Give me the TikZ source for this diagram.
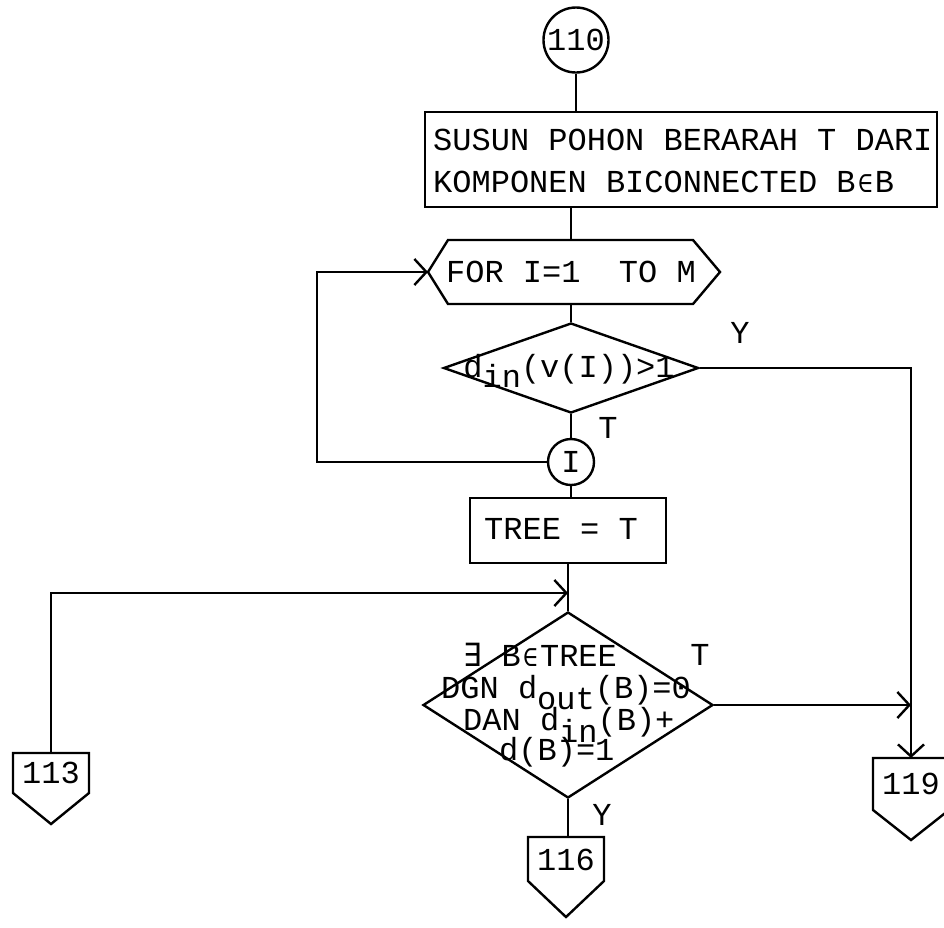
\documentclass[tikz,border=0pt]{standalone}
\usepackage{fontspec}
\setmonofont{Liberation Mono}
\newfontfamily\symf{DejaVu Sans Mono}
\usetikzlibrary{arrows.meta,shapes.geometric,calc}
\newcommand{\elem}{\makebox[19.2pt]{\symf\fontsize{25}{25}\selectfont ∈}}
\begin{document}
\begin{tikzpicture}[x=1pt,y=-1pt,
  line width=2.4pt,
  every node/.style={font=\ttfamily\fontsize{32}{42}\selectfont},
  arr/.style={-{Straight Barb[length=12pt,width=26pt]}},
  dia/.style={diamond, draw, inner sep=0pt},
  circ/.style={circle, draw, inner sep=0pt},
  txt/.style={inner sep=0pt},
  boxa/.style={draw, inner sep=0pt},
]
\useasboundingbox (0,0) rectangle (944,927);

% start connector
\node[circ, minimum size=65] (c110) at (576,40) {110};
\node[boxa, minimum width=512, minimum height=95] (b1) at (681,159.5) {};
\node[txt, anchor=west, align=left] (b1t) at (432,161) {SUSUN POHON BERARAH T DARI\\KOMPONEN BICONNECTED B\elem B};
\draw (c110.south) -- (c110.south |- b1.north);

% loop hexagon
\node[txt] (hex) at (571,272) {FOR I=1\ \ TO M};
\coordinate (hexL) at (428,272);
\coordinate (hexT) at (571,240);
\coordinate (hexB) at (571,304);
\draw (hexL) -- (448,240) -- (693,240) -- (720,272) -- (693,304) -- (448,304) -- cycle;
\draw (hexT |- b1.south) -- (hexT);

% decision 1
\node[dia, minimum width=255, minimum height=90] (d1) at (571,368) {};
\node[txt, anchor=base] (d1t) at (569,377) {d\raisebox{-10pt}{in}(v(I))>1};
\draw (hexB) -- (d1.north);
\node[txt] (y1) at (740,333) {Y};
\coordinate (p119) at (911,758);
\draw[arr] (d1.east) -| (p119);

% loop end connector
\node[circ, minimum size=46] (cI) at (571,462) {I};
\draw (d1.south) -- (cI.north);
\node[txt] (t1lab) at (608,428) {T};
\coordinate (loopC) at (317,462);
\draw[arr] (cI.west) -- (loopC) |- (hexL);

% assignment
\node[boxa, minimum width=196, minimum height=65] (tree) at (568,530.5) {};
\node[txt, anchor=west] (treet) at (483,529) {TREE = T};
\draw (cI.south) -- (cI.south |- tree.north);

% decision 2
\node[dia, minimum width=290, minimum height=186] (d2) at (568,705) {};
\coordinate (join) at (568,593);
\draw (tree.south) -- (d2.north);
\coordinate (p113) at (51,753);
\draw[arr] (p113) |- (join);

\node[txt, anchor=base west] (l1) at (462,666) {{\symf ∃} B\elem TREE};
\node[txt, anchor=base west] (l2) at (440,698) {DGN d\raisebox{-11pt}{out}(B)=0};
\node[txt, anchor=base west] (l3) at (462,730) {DAN d\raisebox{-12pt}{in}(B)+};
\node[txt, anchor=base west] (l4) at (498,760) {d(B)=1};
\node[txt] (t2lab) at (700,655) {T};
\draw[arr] (d2.east) -- (d2.east -| p119);

\coordinate (p116) at (566,837);
\draw (d2.south) -- (d2.south |- p116);
\node[txt] (y2) at (602,815) {Y};

% off-page connectors
\node[txt] (n113) at (51,773) {113};
\draw (p113) ++(-38,0) -- ++(0,40) -- ++(38,31) -- ++(38,-31) -- ++(0,-40) -- cycle;

\node[txt] (n116) at (566,860) {116};
\draw (p116) ++(-38,0) -- ++(0,44) -- ++(38,36) -- ++(38,-36) -- ++(0,-44) -- cycle;

\node[txt] (n119) at (911,784) {119};
\draw (p119) ++(-38,0) -- ++(0,52) -- ++(38,30) -- ++(38,-30) -- ++(0,-52) -- cycle;
\end{tikzpicture}
\end{document}
